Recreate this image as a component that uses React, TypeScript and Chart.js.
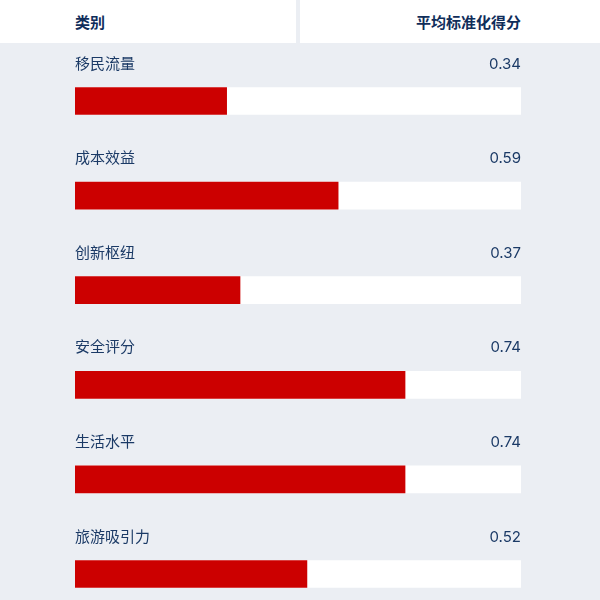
import { useEffect, useRef } from 'react'
import { Chart, registerables, Plugin } from 'chart.js'

Chart.register(...registerables)

const categories = ['移民流量', '成本效益', '创新枢纽', '安全评分', '生活水平', '旅游吸引力']
const scores = [0.34, 0.59, 0.37, 0.74, 0.74, 0.52]
const headerLabels = ['类别', '平均标准化得分']

const NAVY = '#1b3a66'
const RED = '#cc0000'
const BG = '#ebeef3'
const FONT = "Inter, 'Noto Sans CJK SC', sans-serif"

const rowLabels: Plugin<'bar'> = {
  id: 'rowLabels',
  afterDatasetsDraw(chart) {
    const { ctx, chartArea } = chart
    const meta = chart.getDatasetMeta(0)
    ctx.save()
    ctx.font = `15px ${FONT}`
    ctx.fillStyle = NAVY
    ctx.textBaseline = 'middle'
    meta.data.forEach((bar, i) => {
      const y = bar.y - 37
      ctx.textAlign = 'left'
      ctx.fillText(categories[i], chartArea.left, y)
      ctx.textAlign = 'right'
      ctx.fillText(scores[i].toFixed(2), chartArea.right, y)
    })
    ctx.restore()
  },
}

export default function App() {
  const chartRef = useRef<HTMLCanvasElement>(null)

  useEffect(() => {
    if (!chartRef.current) return
    const chart = new Chart(chartRef.current, {
      type: 'bar',
      data: {
        labels: categories,
        datasets: [
          {
            label: '平均标准化得分',
            data: scores,
            backgroundColor: RED,
            barThickness: 27,
            grouped: false,
            order: 0,
          },
          {
            label: 'track',
            data: categories.map(() => 1),
            backgroundColor: '#ffffff',
            barThickness: 27,
            grouped: false,
            order: 1,
          },
        ],
      },
      options: {
        indexAxis: 'y',
        animation: false,
        responsive: false,
        events: [],
        layout: { padding: { left: 75, right: 79, top: 10.7, bottom: 21.7 } },
        scales: {
          x: { display: false, min: 0, max: 1 },
          y: { display: false },
        },
        plugins: {
          legend: { display: false },
          tooltip: { enabled: false },
        },
      },
      plugins: [rowLabels],
    })
    return () => chart.destroy()
  }, [])

  const headCell = {
    height: 43,
    background: '#ffffff',
    display: 'flex',
    alignItems: 'center',
    fontFamily: FONT,
    fontSize: 15,
    fontWeight: 700,
    color: '#0f2d5a',
    boxSizing: 'border-box' as const,
  }

  return (
    <div style={{ position: 'relative', width: 600, height: 600, overflow: 'hidden', background: BG }}>
      <style>{'body{margin:0}'}</style>
      <div style={{ display: 'flex', height: 43 }}>
        <div style={{ ...headCell, width: 296, paddingLeft: 75 }}>{headerLabels[0]}</div>
        <div style={{ ...headCell, marginLeft: 4, flex: 1, justifyContent: 'flex-end', paddingRight: 79 }}>
          {headerLabels[1]}
        </div>
      </div>
      <div style={{ position: 'absolute', top: 43, left: 0 }}>
        <canvas ref={chartRef} width={600} height={600}></canvas>
      </div>
    </div>
  )
}
